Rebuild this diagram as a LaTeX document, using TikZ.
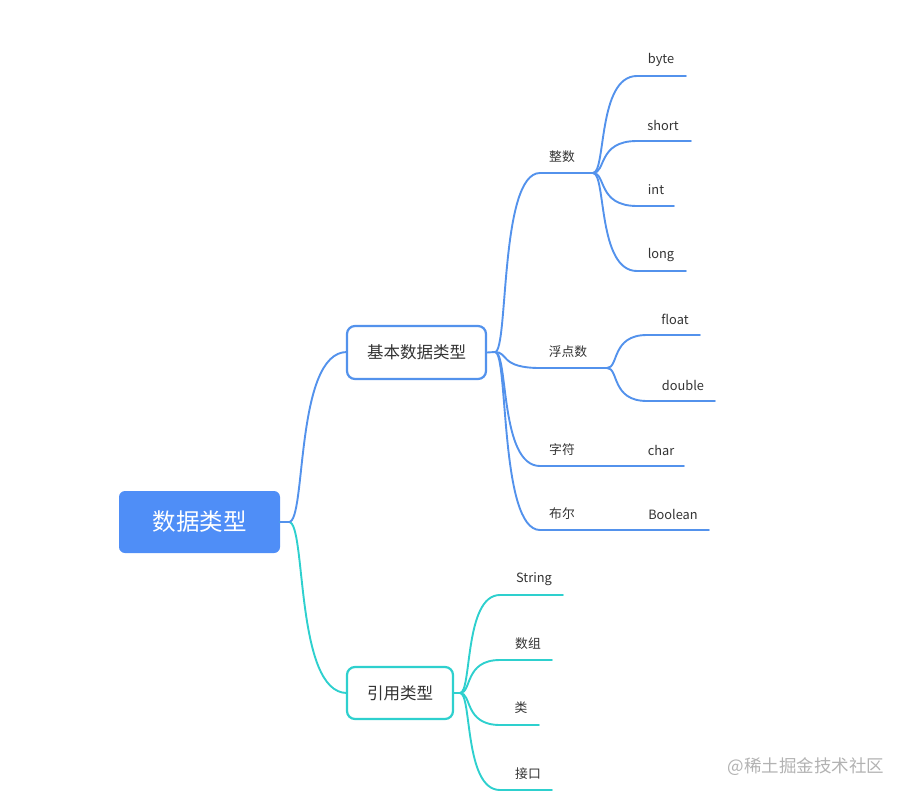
\documentclass[tikz,border=0pt]{standalone}
\usepackage{fontspec}
\setmainfont{Noto Sans CJK SC}
\usetikzlibrary{calc}
\definecolor{bl}{RGB}{83,146,236}
\definecolor{rootfill}{RGB}{79,142,247}
\definecolor{tl}{RGB}{46,208,206}
\definecolor{txt}{RGB}{51,51,51}
\definecolor{wm}{RGB}{178,178,178}
\tikzset{
  branch/.style={to path={.. controls ($(\tikztostart)!0.3!(\tikztostart-|\tikztotarget)$) and ($(\tikztostart|-\tikztotarget)!0.1!(\tikztotarget)$) .. (\tikztotarget)}},
  conn/.style={line width=1.9pt, line cap=round, line join=round},
  lbl/.style={text=txt, font=\fontsize{12.8}{14}\selectfont, inner sep=0pt, yshift=-1pt},
  rootbox/.style={fill=rootfill, rounded corners=6pt, text=white, font=\fontsize{23.5}{26}\selectfont},
  subbox/.style={draw, line width=2.2pt, fill=white, rounded corners=8pt, text=txt, font=\fontsize{16.5}{19}\selectfont}
}
\begin{document}
\begin{tikzpicture}[x=1pt,y=-1pt]
\useasboundingbox (0,0) rectangle (908,800);
% root and level-1 boxes
\node[rootbox, minimum width=161pt, minimum height=62pt] (root) at (199.5,522) {数据类型};
% coordinates
\coordinate (r0) at (289,522);
\coordinate (b0) at (495,352);
\coordinate (y0) at (460,693);
% connectors root -> level 1
\draw[conn, tl] (root.east) -- (r0) to[branch] (347,693);
\draw[conn, bl] (root.east) -- (r0) to[branch] (347,352);
\node[subbox, draw=bl, minimum width=139pt, minimum height=53pt] (basic) at (416.5,352.5) {基本数据类型};
\node[subbox, draw=tl, minimum width=106pt, minimum height=52pt] (ref) at (400,693) {引用类型};

% level 2 under basic
\coordinate (zs) at (540,173); \coordinate (ze) at (593,173);
\coordinate (fs) at (540,368); \coordinate (fe) at (607,368);
\coordinate (cs) at (540,466); \coordinate (ce) at (684,466);
\coordinate (bs) at (540,530); \coordinate (be) at (709,530);
\draw[conn, bl] (basic.east) -- (b0) to[branch] (zs) -- (ze);
\draw[conn, bl] (b0) to[branch] (fs) -- (fe);
\draw[conn, bl] (b0) to[branch] (cs) -- (ce);
\draw[conn, bl] (b0) to[branch] (bs) -- (be);
\node[lbl] (lz) at (562,156) {整数};
\node[lbl] (lf) at (568,351) {浮点数};
\node[lbl] (lc) at (562,449) {字符};
\node[lbl] (lchar) at (661,449) {char};
\node[lbl] (lb) at (562,513) {布尔};
\node[lbl] (lbool) at (673,513) {Boolean};

% level 3 under 整数
\coordinate (by1) at (637,76); \coordinate (by2) at (686,76);
\coordinate (sh1) at (637,141); \coordinate (sh2) at (691,141);
\coordinate (in1) at (637,206); \coordinate (in2) at (674,206);
\coordinate (lo1) at (637,271); \coordinate (lo2) at (686,271);
\draw[conn, bl] (ze) to[branch] (by1) -- (by2);
\draw[conn, bl] (ze) to[branch] (sh1) -- (sh2);
\draw[conn, bl] (ze) to[branch] (in1) -- (in2);
\draw[conn, bl] (ze) to[branch] (lo1) -- (lo2);
\node[lbl] (lbyte) at (661,59) {byte};
\node[lbl] (lshort) at (663,124) {short};
\node[lbl] (lint) at (656,189) {int};
\node[lbl] (llong) at (661,254) {long};

% level 3 under 浮点数
\coordinate (fl1) at (647,335); \coordinate (fl2) at (700,335);
\coordinate (do1) at (647,401); \coordinate (do2) at (715,401);
\draw[conn, bl] (fe) to[branch] (fl1) -- (fl2);
\draw[conn, bl] (fe) to[branch] (do1) -- (do2);
\node[lbl] (lfloat) at (675,318) {float};
\node[lbl] (ldouble) at (683,384) {double};

% level 2 under ref
\coordinate (st1) at (500,595); \coordinate (st2) at (563,595);
\coordinate (ar1) at (500,660); \coordinate (ar2) at (552,660);
\coordinate (cl1) at (500,725); \coordinate (cl2) at (539,725);
\coordinate (if1) at (500,790); \coordinate (if2) at (552,790);
\draw[conn, tl] (ref.east) -- (y0) to[branch] (st1) -- (st2);
\draw[conn, tl] (y0) to[branch] (ar1) -- (ar2);
\draw[conn, tl] (y0) to[branch] (cl1) -- (cl2);
\draw[conn, tl] (y0) to[branch] (if1) -- (if2);
\node[lbl] (lstr) at (534,578) {String};
\node[lbl] (larr) at (528,643) {数组};
\node[lbl] (lcls) at (521,707) {类};
\node[lbl] (lif) at (528,773) {接口};

% watermark
\node[text=wm, font=\fontsize{17.5}{20}\selectfont, inner sep=0pt] (wmk) at (806,767) {@稀土掘金技术社区};
\end{tikzpicture}
\end{document}
